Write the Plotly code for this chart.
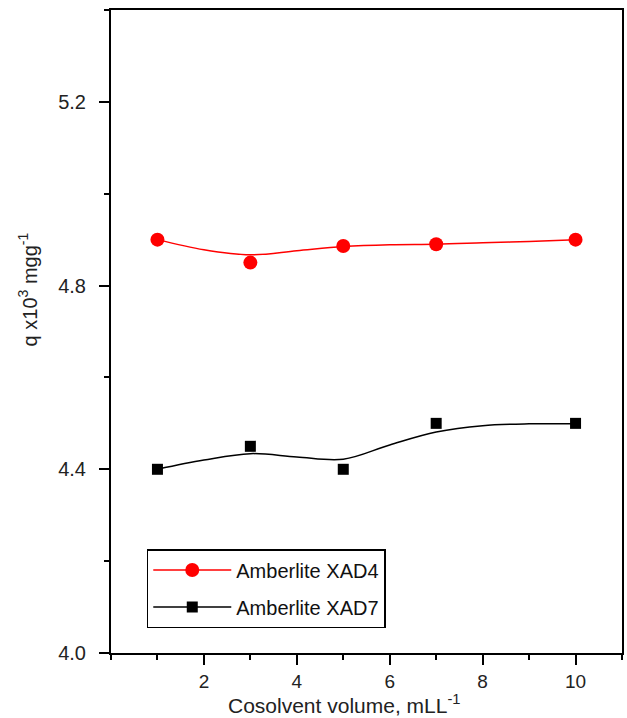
import plotly.graph_objects as go

# Measured data points
x_vals = [1, 3, 5, 7, 10]
xad4 = [4.900, 4.850, 4.886, 4.890, 4.900]
xad7 = [4.400, 4.450, 4.400, 4.500, 4.500]

# Smoothed fit curves
fit_x = [1, 2, 3, 4, 5, 6, 7, 8, 9, 10]
fit_xad4 = [4.900, 4.878, 4.867, 4.876, 4.885, 4.889, 4.890, 4.893, 4.896, 4.900]
fit_xad7 = [4.400, 4.420, 4.434, 4.427, 4.422, 4.453, 4.481, 4.495, 4.499, 4.499]

series_names = ["Amberlite XAD4", "Amberlite XAD7"]
y_ticks = [4.0, 4.4, 4.8, 5.2]
x_ticks = [2, 4, 6, 8, 10]
x_title = "Cosolvent volume, mLL<sup>-1</sup>"
y_title = "q x10<sup>3</sup> mgg<sup>-1</sup>"

RED = "#ff0000"
BLACK = "#000000"
FONT = "Liberation Sans, Arial, sans-serif"

fig = go.Figure()

fig.add_trace(go.Scatter(x=fit_x, y=fit_xad4, mode="lines", line=dict(color=RED, width=1.5, shape="spline", smoothing=1.0),
                         showlegend=False, hoverinfo="skip"))
fig.add_trace(go.Scatter(x=fit_x, y=fit_xad7, mode="lines", line=dict(color=BLACK, width=1.5, shape="spline", smoothing=1.0),
                         showlegend=False, hoverinfo="skip"))
fig.add_trace(go.Scatter(x=x_vals, y=xad4, mode="markers", name=series_names[0],
                         marker=dict(symbol="circle", size=14, color=RED), showlegend=False))
fig.add_trace(go.Scatter(x=x_vals, y=xad7, mode="markers", name=series_names[1],
                         marker=dict(symbol="square", size=11, color=BLACK), showlegend=False))

# legend-only entries
fig.add_trace(go.Scatter(x=[None], y=[None], mode="lines+markers", name=series_names[0],
                         legendgroup="a", line=dict(color=RED, width=1.5),
                         marker=dict(symbol="circle", size=14, color=RED)))
fig.add_trace(go.Scatter(x=[None], y=[None], mode="lines+markers", name=series_names[1],
                         legendgroup="b", line=dict(color=BLACK, width=1.5),
                         marker=dict(symbol="square", size=11, color=BLACK)))

axis_common = dict(
    showline=True, linecolor="black", linewidth=2, mirror=True,
    ticks="outside", ticklen=10, tickwidth=2, tickcolor="black",
    showgrid=False, zeroline=False,
)

fig.update_xaxes(**axis_common, range=[0, 11], tickvals=x_ticks,
                 tickfont=dict(family=FONT, size=19, color="#222"),
                 minor=dict(ticks="outside", ticklen=5, tickwidth=2, tickcolor="black", dtick=1, tick0=1))
fig.update_yaxes(**axis_common, range=[4.0, 5.4], tickvals=y_ticks, tickformat=".1f", ticklabelstandoff=9,
                 tickfont=dict(family=FONT, size=20, color="#222"),
                 minor=dict(ticks="outside", ticklen=5, tickwidth=2, tickcolor="black", dtick=0.2, tick0=4.0))

fig.add_annotation(text=x_title, xref="paper", yref="paper", x=0.456, y=-0.079,
                   xanchor="center", yanchor="middle", showarrow=False,
                   font=dict(family=FONT, size=21, color="#222"))
fig.add_annotation(text=y_title, xref="paper", yref="paper", x=-0.1637, y=0.566,
                   xanchor="center", yanchor="middle", showarrow=False, textangle=-90,
                   font=dict(family=FONT, size=20, color="#222"))

fig.update_layout(
    width=627, height=718,
    margin=dict(l=111, r=3, t=10, b=65),
    plot_bgcolor="white", paper_bgcolor="white",
    legend=dict(x=0.07, y=0.1617, xanchor="left", yanchor="top",
                bordercolor="black", borderwidth=1.5, bgcolor="white",
                itemwidth=78, tracegroupgap=8,
                font=dict(family=FONT, size=20, color="#111")),
)

fig.write_html("out.html")
